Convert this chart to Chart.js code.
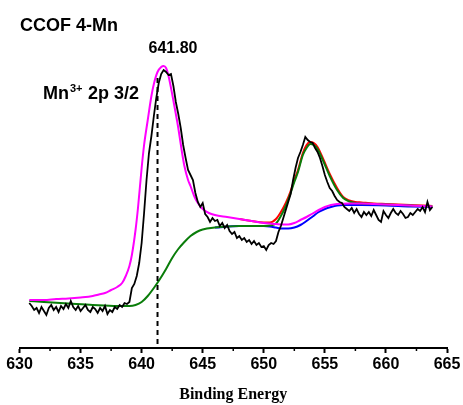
<!DOCTYPE html>
<html>
<head>
<meta charset="utf-8">
<script src="https://cdn.jsdelivr.net/npm/chart.js@4.4.1/dist/chart.umd.min.js"></script>
<style>
  html, body { margin: 0; padding: 0; background: #fff; }
  #wrap { width: 463px; height: 405px; }
</style>
</head>
<body>
<div id="wrap"><canvas id="xpsChart" width="463" height="405"></canvas></div>
<script>
// raw spectrum, 0.2 eV step starting at 630.8 eV
const rawStart = 630.8;
const rawStep = 0.2;
const rawCounts = [
  45, 42, 38, 40, 35, 41, 37, 33, 40, 43, 38, 41, 36, 42, 39, 44, 40, 47, 41, 38,
  42, 37, 40, 43, 38, 36, 41, 39, 35, 40, 37, 42, 34, 38, 36, 41, 39, 43, 41, 45,
  44, 46, 60, 64, 72, 85, 105, 135, 168, 195, 212, 232, 250, 265, 274, 278, 276, 273, 274, 262,
  246, 234, 220, 203, 190, 178, 173, 168, 155, 146, 141, 145, 134, 131, 126, 130, 127, 128, 122, 125,
  120, 123, 117, 114, 116, 110, 112, 108, 110, 106, 108, 104, 107, 103, 105, 101, 102, 98, 103, 105,
  104, 107, 116, 122, 130, 138, 146, 154, 168, 180, 190, 196, 203, 211, 208, 206, 205, 200, 196, 190,
  182, 173, 166, 160, 157, 152, 148, 146, 145, 141, 139, 137, 140, 135, 139, 134, 131, 136, 133, 136,
  132, 138, 133, 128, 126, 137, 133, 130, 135, 139, 135, 133, 137, 134, 130, 131, 135, 133, 136, 139,
  137, 141, 136, 146, 138, 141
];

// fitted envelope (Mn3+ 2p3/2)
const envEnergy = [630.8, 632, 633, 634, 635, 636, 636.5, 637, 637.5, 638, 638.4, 638.7, 639, 639.2, 639.5,
  639.7, 640, 640.2, 640.5, 640.8, 641, 641.3, 641.6, 641.8, 642, 642.2, 642.5, 642.8, 643, 643.3,
  643.5, 643.8, 644, 644.3, 644.6, 645, 645.5, 646, 647, 648, 649, 650, 651, 651.5, 652,
  652.5, 653, 653.5, 654, 654.5, 655, 655.5, 656, 657, 658, 659, 660, 661, 662, 663, 663.8];
const envCounts = [48, 48, 49, 49.5, 50.5, 52, 53.5, 55, 58, 61, 65, 72, 82, 93, 118,
  140, 180, 203, 228, 252, 264, 276, 281, 282, 280, 272, 254, 234, 220, 196,
  182, 168, 162, 152, 145, 139, 135, 133, 131, 129, 127, 125, 124, 123.5, 123.5,
  125, 128, 131, 134.5, 138, 141, 143, 144, 144.5, 144.5, 144, 143.5, 143, 142.5, 142, 141.5];

// satellite sum (red)
const satEnergy = [648, 649, 650, 650.5, 651, 651.4, 651.8, 652.2, 652.5, 652.8, 653.2, 653.5, 653.8, 654.1,
  654.4, 654.9, 655.4, 656, 656.5, 657, 657.5, 658, 659, 660, 661, 662, 663, 663.8];
const satCounts = [129, 127, 125.5, 125.5, 129, 136, 145, 157, 168, 178, 195, 203, 206, 205,
  201, 188, 174, 160, 151, 147.5, 146, 145.5, 144.5, 144, 143.5, 143, 142.5, 142];

// Shirley background + satellite component (green)
const bgEnergy = [630.8, 632, 634, 636, 638, 639, 639.5, 640, 640.5, 641, 641.5, 642, 642.5, 643, 643.5,
  644, 644.5, 645, 646, 647, 648, 649, 650, 650.5, 651, 651.4, 651.8, 652.2, 652.5, 652.8,
  653.2, 653.5, 653.8, 654.1, 654.4, 654.9, 655.4, 656, 656.5, 657, 657.5, 658, 659, 660, 661,
  662, 663, 663.8];
const bgCounts = [47, 46, 44.5, 43, 42, 42, 43, 46, 52, 60, 69, 79, 90, 99, 106,
  112, 116, 118.5, 120.5, 121.5, 122, 122, 122, 122.5, 124.5, 132, 142, 155, 166, 176,
  193, 200, 204, 203, 199, 186, 172, 158, 150, 146.5, 145, 144.5, 144, 143.5, 143,
  142.5, 142, 141.5];

// second background (blue)
const bg2Energy = [646, 648, 650, 650.5, 651, 651.5, 652, 652.5, 653, 653.5, 654, 654.5, 655, 655.5, 656,
  656.5, 657, 658, 660, 662, 663.8];
const bg2Counts = [120.5, 122, 122, 121.5, 120.5, 119.5, 119.5, 120.5, 123, 127, 131.5, 136, 139, 141, 142.5,
  143, 143, 143, 142.5, 141.5, 141];

const peakMarkEnergy = 641.3;
const peakMarkTop = 270;

const majorTicks = [630, 635, 640, 645, 650, 655, 660, 665];
const minorTicks = [632.5, 637.5, 642.5, 647.5, 652.5, 657.5, 662.5];

const pairUp = (xs, ys) => ys.map((y, i) => ({ x: xs[i], y }));
const rawEnergy = rawCounts.map((_, i) => +(rawStart + i * rawStep).toFixed(1));

const sansBold = "Arial, 'Liberation Sans', sans-serif";

const overlay = {
  id: 'overlay',
  afterDraw(chart) {
    const ctx = chart.ctx;
    const xs = chart.scales.x;
    ctx.save();
    ctx.strokeStyle = '#000';
    ctx.lineWidth = 1.5;
    minorTicks.forEach((v) => {
      const px = xs.getPixelForValue(v);
      ctx.beginPath();
      ctx.moveTo(px, xs.top);
      ctx.lineTo(px, xs.top + 3);
      ctx.stroke();
    });

    ctx.fillStyle = '#000';
    ctx.textBaseline = 'alphabetic';
    ctx.textAlign = 'left';
    ctx.font = 'bold 18px ' + sansBold;
    ctx.fillText('CCOF 4-Mn', 20, 31);

    ctx.textAlign = 'center';
    ctx.font = 'bold 16px ' + sansBold;
    ctx.fillText('641.80', 173, 53);

    ctx.textAlign = 'left';
    ctx.font = 'bold 18px ' + sansBold;
    ctx.fillText('Mn', 43, 99);
    const mnW = ctx.measureText('Mn').width;
    ctx.font = 'bold 11px ' + sansBold;
    ctx.fillText('3+', 43 + mnW + 1, 92);
    ctx.font = 'bold 18px ' + sansBold;
    ctx.fillText('2p 3/2', 88, 99);
    ctx.restore();
  },
};

const thin = { pointRadius: 0, fill: false };

new Chart(document.getElementById('xpsChart').getContext('2d'), {
  type: 'line',
  data: {
    datasets: [
      { ...thin, data: pairUp(rawEnergy, rawCounts), borderColor: '#000', borderWidth: 1.8, tension: 0 },
      { ...thin, data: [{ x: peakMarkEnergy, y: peakMarkTop }, { x: peakMarkEnergy, y: 0 }],
        borderColor: '#000', borderWidth: 2, borderDash: [5, 4] },
      { ...thin, data: pairUp(envEnergy, envCounts), borderColor: '#ff00ff', borderWidth: 2, cubicInterpolationMode: 'monotone' },
      { ...thin, data: pairUp(bgEnergy, bgCounts), borderColor: '#0a7d0a', borderWidth: 2, cubicInterpolationMode: 'monotone' },
      { ...thin, data: pairUp(satEnergy, satCounts), borderColor: '#ff0000', borderWidth: 2, cubicInterpolationMode: 'monotone' },
      { ...thin, data: pairUp(bg2Energy, bg2Counts), borderColor: '#0000ff', borderWidth: 2, cubicInterpolationMode: 'monotone' },
    ],
  },
  options: {
    responsive: false,
    animation: false,
    layout: { padding: { top: 10, left: 19.5, right: 16, bottom: 1 } },
    plugins: { legend: { display: false }, tooltip: { enabled: false } },
    scales: {
      x: {
        type: 'linear',
        min: 630,
        max: 665,
        afterBuildTicks: (scale) => { scale.ticks = majorTicks.map((v) => ({ value: v })); },
        afterFit: (scale) => {
          scale.height = 56;
          scale.paddingLeft = 0;
          scale.paddingRight = 0;
        },
        ticks: { color: '#000', font: { family: sansBold, size: 16, weight: 'bold' }, padding: 2, maxRotation: 0 },
        grid: { drawOnChartArea: false, drawTicks: true, tickLength: 5, tickColor: '#000', tickWidth: 2 },
        border: { display: true, color: '#000', width: 2 },
        title: {
          display: true,
          text: 'Binding Energy',
          color: '#000',
          font: { family: "'Times New Roman', 'Liberation Serif', serif", size: 16, weight: 'bold' },
          padding: { top: 4, bottom: 0 },
        },
      },
      y: { type: 'linear', min: 0, max: 338, display: false },
    },
  },
  plugins: [overlay],
});
</script>
</body>
</html>
